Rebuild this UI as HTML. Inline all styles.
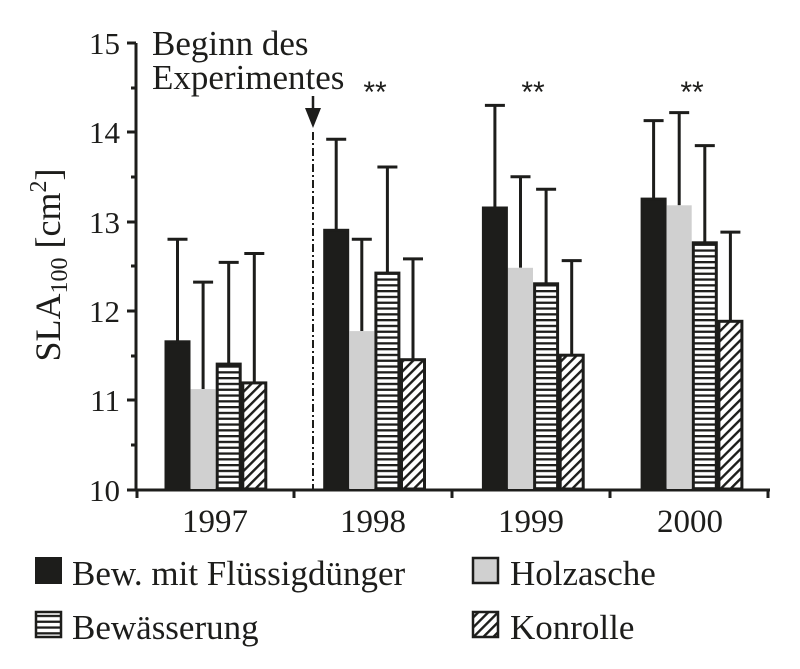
<!DOCTYPE html>
<html><head><meta charset="utf-8"><style>
html,body{margin:0;padding:0;background:#fff;}
svg{display:block;}
text{font-family:"Liberation Serif",serif;fill:#1d1d1b;}
</style></head><body>
<svg width="800" height="669" viewBox="0 0 800 669" xmlns="http://www.w3.org/2000/svg">
<defs>
<pattern id="hs" patternUnits="userSpaceOnUse" width="10" height="5.8">
<rect width="10" height="5.8" fill="#fff"/><rect y="0" width="10" height="2.3" fill="#1d1d1b"/>
</pattern>
<pattern id="dg" patternUnits="userSpaceOnUse" width="7" height="7" patternTransform="rotate(45)">
<rect width="7" height="7" fill="#fff"/><rect x="0" width="2.4" height="7" fill="#1d1d1b"/>
</pattern>
</defs>
<g stroke="#1d1d1b" stroke-width="3" fill="none">
<line x1="136" y1="43" x2="136" y2="491"/>
<line x1="134" y1="490" x2="770" y2="490"/>
<line x1="127" y1="43" x2="136" y2="43"/>
<line x1="127" y1="132" x2="136" y2="132"/>
<line x1="127" y1="222" x2="136" y2="222"/>
<line x1="127" y1="311" x2="136" y2="311"/>
<line x1="127" y1="400" x2="136" y2="400"/>
<line x1="127" y1="490" x2="136" y2="490"/>
<line x1="131" y1="88" x2="136" y2="88"/>
<line x1="131" y1="177" x2="136" y2="177"/>
<line x1="131" y1="266" x2="136" y2="266"/>
<line x1="131" y1="356" x2="136" y2="356"/>
<line x1="131" y1="445" x2="136" y2="445"/>
<line x1="137" y1="490" x2="137" y2="498"/>
<line x1="294" y1="490" x2="294" y2="498"/>
<line x1="452" y1="490" x2="452" y2="498"/>
<line x1="610" y1="490" x2="610" y2="498"/>
<line x1="768" y1="490" x2="768" y2="498"/>
</g>
<g font-size="31" text-anchor="end">
<text x="120" y="54">15</text><text x="120" y="143">14</text><text x="120" y="233">13</text>
<text x="120" y="322">12</text><text x="120" y="411">11</text><text x="120" y="501">10</text>
</g>
<g font-size="33" text-anchor="middle">
<text x="215" y="532">1997</text><text x="373" y="532">1998</text>
<text x="531" y="532">1999</text><text x="690" y="532">2000</text>
</g>
<text transform="translate(60,265) rotate(-90)" font-size="36" text-anchor="middle">SLA<tspan font-size="24" dy="7">100</tspan><tspan dy="-7"> [cm</tspan><tspan font-size="24" dy="-14">2</tspan><tspan dy="14">]</tspan></text>
<text x="152" y="55" font-size="35">Beginn des</text>
<text x="152" y="89" font-size="35">Experimentes</text>
<g font-size="30" text-anchor="middle">
<text x="375" y="102" style="font-family:'Liberation Sans',sans-serif">**</text>
<text x="533" y="102" style="font-family:'Liberation Sans',sans-serif">**</text>
<text x="692" y="102" style="font-family:'Liberation Sans',sans-serif">**</text>
</g>
<line x1="313" y1="96" x2="313" y2="110" stroke="#1d1d1b" stroke-width="2.5"/>
<polygon points="305,108 321,108 313,128" fill="#1d1d1b"/>
<line x1="313" y1="132" x2="313" y2="490" stroke="#1d1d1b" stroke-width="2" stroke-dasharray="8,3,2,3"/>
<g stroke="#1d1d1b" stroke-width="3">
<path fill="none" d="M177.5 341.8V239.2M167.5 239.2h20 M203.1 389.1V282.1M193.1 282.1h20 M228.7 364.1V262.4M218.7 262.4h20 M254.3 382.9V253.5M244.3 253.5h20
M336.2 230.3V139.3M326.2 139.3h20 M361.8 331.1V239.2M351.8 239.2h20 M387.4 273.1V167M377.4 167h20 M413 359.7V258.9M403 258.9h20
M494.9 208V105.4M484.9 105.4h20 M520.5 267.8V176.8M510.5 176.8h20 M546.1 283.8V189.3M536.1 189.3h20 M571.7 355.2V260.6M561.7 260.6h20
M653.6 199.1V120.6M643.6 120.6h20 M679.2 205.3V112.6M669.2 112.6h20 M704.8 242.8V145.6M694.8 145.6h20 M730.4 321.3V232.1M720.4 232.1h20"/>
<rect x="166" y="341.8" width="23" height="147.2" fill="#1d1d1b"/>
<rect x="190.6" y="389.1" width="25" height="99.9" fill="#d0d0d0" stroke="none"/>
<rect x="217.2" y="364.1" width="23" height="124.9" fill="url(#hs)"/>
<rect x="242.8" y="382.9" width="23" height="106.1" fill="url(#dg)"/>
<rect x="324.7" y="230.3" width="23" height="258.7" fill="#1d1d1b"/>
<rect x="349.3" y="331.1" width="25" height="157.9" fill="#d0d0d0" stroke="none"/>
<rect x="375.9" y="273.1" width="23" height="215.9" fill="url(#hs)"/>
<rect x="401.5" y="359.7" width="23" height="129.3" fill="url(#dg)"/>
<rect x="483.4" y="208" width="23" height="281" fill="#1d1d1b"/>
<rect x="508" y="267.8" width="25" height="221.2" fill="#d0d0d0" stroke="none"/>
<rect x="534.6" y="283.8" width="23" height="205.2" fill="url(#hs)"/>
<rect x="560.2" y="355.2" width="23" height="133.8" fill="url(#dg)"/>
<rect x="642.1" y="199.1" width="23" height="289.9" fill="#1d1d1b"/>
<rect x="666.7" y="205.3" width="25" height="283.7" fill="#d0d0d0" stroke="none"/>
<rect x="693.3" y="242.8" width="23" height="246.2" fill="url(#hs)"/>
<rect x="718.9" y="321.3" width="23" height="167.7" fill="url(#dg)"/>
</g>
<!-- legend -->
<rect x="35" y="557" width="27" height="27" fill="#1d1d1b"/>
<text x="72" y="585" font-size="35">Bew. mit Flüssigdünger</text>
<rect x="473" y="558" width="25" height="25" fill="#d0d0d0" stroke="#1d1d1b" stroke-width="2.5"/>
<text x="510" y="585" font-size="35">Holzasche</text>
<rect x="36" y="612" width="25" height="25" fill="url(#hs)" stroke="#1d1d1b" stroke-width="2.5"/>
<text x="72" y="639" font-size="35">Bewässerung</text>
<rect x="473" y="612" width="25" height="25" fill="url(#dg)" stroke="#1d1d1b" stroke-width="2.5"/>
<text x="510" y="639" font-size="35">Konrolle</text>
</svg>
</body></html>
